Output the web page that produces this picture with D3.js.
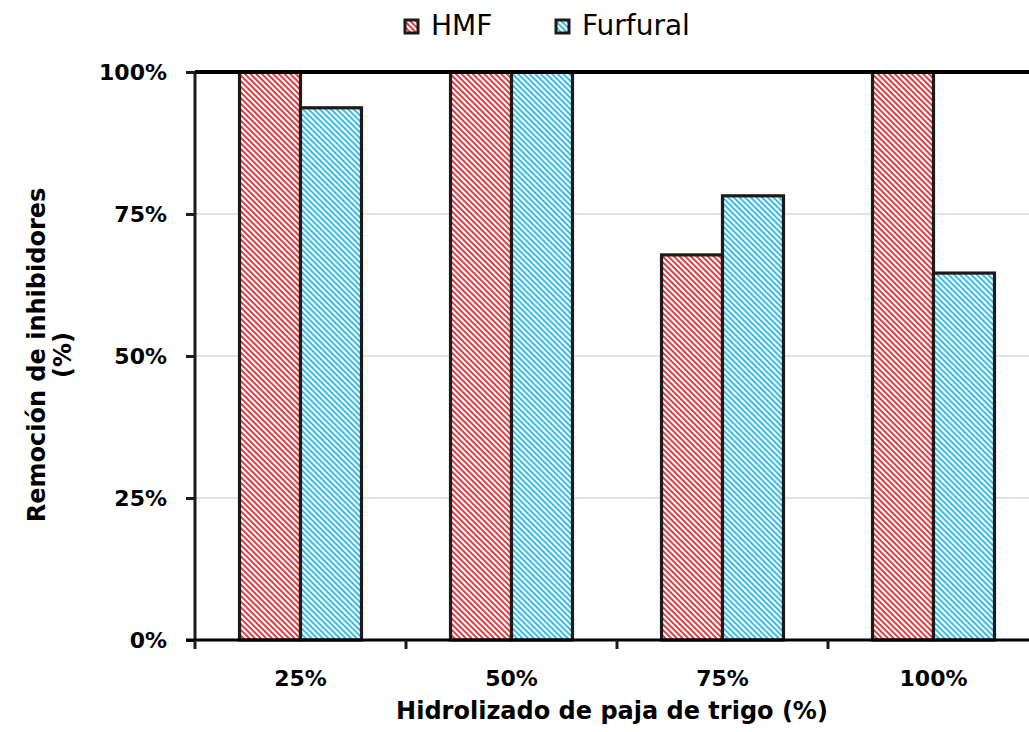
<!DOCTYPE html>
<html><head><meta charset="utf-8">
<script src="https://cdn.jsdelivr.net/npm/d3@7"></script>
<style>body{margin:0;background:#fff}svg{display:block}</style>
</head><body>
<script>
const categories = ["25%", "50%", "75%", "100%"];
const seriesNames = ["HMF", "Furfural"];
const hmf = [100, 100, 67.8, 100];
const furfural = [93.7, 100, 78.2, 64.6];
const yTicks = [0, 25, 50, 75, 100];
const yTickLabels = ["0%", "25%", "50%", "75%", "100%"];
const colors = {HMF: "#de3e44", Furfural: "#36bdea"};

const W = 1029, H = 732;
const svg = d3.select("body").append("svg").attr("width", W).attr("height", H);
const defs = svg.append("defs");
seriesNames.forEach(s => {
  const p = defs.append("pattern").attr("id", "pat-" + s)
    .attr("patternUnits", "userSpaceOnUse").attr("width", 8).attr("height", 4)
    .attr("patternTransform", "rotate(45)");
  p.append("rect").attr("width", 8).attr("height", 4).attr("fill", "#fff");
  p.append("rect").attr("y", 0).attr("width", 8).attr("height", 2).attr("fill", colors[s]);
});

const mLeft = 195, mRight = 1039, mTop = 72, mBottom = 640;
const x0 = d3.scaleBand().domain(categories).range([mLeft, mRight]).padding(0);
const x1 = d3.scaleBand().domain(seriesNames).range([0, x0.bandwidth()]).paddingInner(0).paddingOuter(0.73);
const y = d3.scaleLinear().domain([0, 100]).range([mBottom, mTop]);

const font = "'DejaVu Sans',sans-serif";

// gridlines
svg.append("g").selectAll("line").data(yTicks.filter(t => t > 0 && t < 100)).join("line")
  .attr("x1", mLeft).attr("x2", W).attr("y1", d => y(d)).attr("y2", d => y(d))
  .attr("stroke", "#d9d9d9").attr("stroke-width", 1.5);

const data = categories.map((c, i) => ({cat: c, vals: [{s: "HMF", v: hmf[i]}, {s: "Furfural", v: furfural[i]}]}));
svg.append("g").selectAll("g").data(data).join("g")
  .attr("transform", d => `translate(${x0(d.cat)},0)`)
  .selectAll("rect").data(d => d.vals).join("rect")
  .attr("x", d => x1(d.s)).attr("width", x1.bandwidth())
  .attr("y", d => y(d.v)).attr("height", d => y(0) - y(d.v))
  .attr("fill", d => `url(#pat-${d.s})`)
  .attr("stroke", "#1e1b16").attr("stroke-width", 3.2);

// top line at 100%
svg.append("line").attr("x1", mLeft).attr("x2", W).attr("y1", y(100)).attr("y2", y(100))
  .attr("stroke", "#000").attr("stroke-width", 4);

// y axis
const yAxis = svg.append("g").attr("transform", `translate(${mLeft},0)`)
  .call(d3.axisLeft(y).tickValues(yTicks).tickFormat((d, i) => yTickLabels[i]).tickSize(9).tickPadding(19));
yAxis.select(".domain").attr("stroke", "#1e1b16").attr("stroke-width", 3).attr("d", `M0,${mTop}V${mBottom}`);
yAxis.selectAll(".tick line").attr("stroke", "#1e1b16").attr("stroke-width", 3);
yAxis.selectAll("text").attr("font-family", font).attr("font-weight", "bold").attr("font-size", 22).attr("fill", "#000");

// x axis
const xAxis = svg.append("g").attr("transform", `translate(0,${mBottom})`)
  .call(d3.axisBottom(x0).tickSize(0).tickPadding(30));
xAxis.select(".domain").attr("stroke", "#000").attr("stroke-width", 3).attr("d", `M${mLeft - 9},0H${W}`);
xAxis.selectAll("text").attr("font-family", font).attr("font-weight", "bold").attr("font-size", 22).attr("fill", "#000");
svg.append("g").selectAll("line").data(categories.concat(["end"])).join("line")
  .attr("x1", (d, i) => mLeft + i * x0.step()).attr("x2", (d, i) => mLeft + i * x0.step())
  .attr("y1", mBottom).attr("y2", mBottom + 9)
  .attr("stroke", "#1e1b16").attr("stroke-width", 3);

// axis titles
svg.append("text").attr("x", 612).attr("y", 719).attr("text-anchor", "middle")
  .attr("font-family", font).attr("font-weight", "bold").attr("font-size", 24).text("Hidrolizado de paja de trigo (%)");
const yt = svg.append("text").attr("transform", `translate(45,355) rotate(-90)`)
  .attr("text-anchor", "middle").attr("font-family", font).attr("font-weight", "bold").attr("font-size", 24);
yt.append("tspan").attr("x", 0).attr("dy", 0).text("Remoción de inhibidores");
yt.append("tspan").attr("x", 0).attr("dy", 26).text("(%)");

// legend
const legendX = [405, 556];
const lg = svg.append("g").selectAll("g").data(seriesNames).join("g")
  .attr("transform", (d, i) => `translate(${legendX[i]},20)`);
lg.append("rect").attr("width", 13).attr("height", 13)
  .attr("fill", d => `url(#pat-${d})`).attr("stroke", "#1e1b16").attr("stroke-width", 3);
lg.append("text").attr("x", 26).attr("y", 15).attr("font-family", font).attr("font-size", 28).text(d => d);
</script>
</body></html>
